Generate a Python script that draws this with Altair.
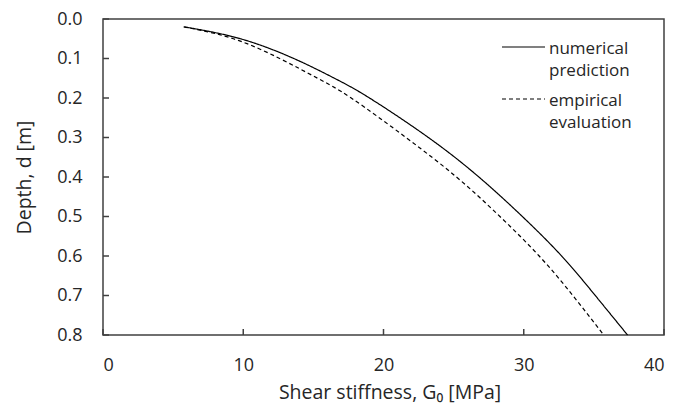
import altair as alt
import pandas as pd

# values
depth = [0.02, 0.05, 0.1, 0.15, 0.2, 0.3, 0.4, 0.5, 0.6, 0.7, 0.8]
g_numerical = [5.8, 9.8, 13.6, 16.5, 19.0, 23.2, 26.8, 29.9, 32.7, 35.1, 37.4]
g_empirical = [5.75, 9.3, 12.6, 15.3, 17.7, 21.6, 25.2, 28.3, 31.1, 33.5, 35.7]
series_names = ["numerical prediction", "empirical evaluation"]
x_ticks = [0, 10, 20, 30, 40]
y_ticks = [0.0, 0.1, 0.2, 0.3, 0.4, 0.5, 0.6, 0.7, 0.8]

rows = []
for d, g in zip(depth, g_numerical):
    rows.append({"depth": d, "G": g, "series": series_names[0]})
for d, g in zip(depth, g_empirical):
    rows.append({"depth": d, "G": g, "series": series_names[1]})
df = pd.DataFrame(rows)
xt_df = pd.DataFrame({"G": x_ticks})
yt_df = pd.DataFrame({"depth": y_ticks})

W, H = 561, 316
TICK = 6
FONT = "Open Sans"
INK = "#262626"
FRAME = "#404040"

xscale = alt.Scale(domain=[0, 40], nice=False, zero=False)
yscale = alt.Scale(domain=[0, 0.8], nice=False, reverse=True)
xaxis = alt.Axis(values=x_ticks, title="Shear stiffness, G₀ [MPa]", ticks=False,
                 domain=False, grid=False, labelPadding=21, titlePadding=9,
                 titleX=W / 2 + 6)
yaxis = alt.Axis(values=y_ticks, format=".1f", title="Depth, d [m]", ticks=False,
                 domain=False, grid=False, labelPadding=21, titlePadding=22,
                 labelOverlap=False)

lines = alt.Chart(df).mark_line(color="black", strokeWidth=1.2, interpolate="natural").encode(
    x=alt.X("G:Q", scale=xscale, axis=xaxis),
    y=alt.Y("depth:Q", scale=yscale, axis=yaxis),
    strokeDash=alt.StrokeDash("series:N",
                              scale=alt.Scale(domain=series_names, range=[[1, 0], [4, 3]]),
                              legend=alt.Legend(title=None, orient="none", legendX=398, legendY=8,
                                                symbolType="M-1,0.28L1,0.28", symbolSize=1849,
                                                symbolStrokeWidth=1.2, symbolStrokeColor="black",
                                                symbolFillColor="transparent",
                                                labelExpr="split(datum.label, ' ')",
                                                labelBaseline="top", labelOffset=3,
                                                clipHeight=28, rowPadding=0, padding=0,
                                                labelFontSize=17, labelFont=FONT, labelColor=INK)),
    order="depth:Q",
)

x_tick_marks = alt.Chart(xt_df).mark_rule(color=FRAME, strokeWidth=1.5).encode(
    x=alt.X("G:Q", scale=xscale, axis=xaxis),
    y=alt.value(H),
    y2=alt.value(H - TICK),
)

y_tick_marks = alt.Chart(yt_df).mark_rule(color=FRAME, strokeWidth=1.5).encode(
    y=alt.Y("depth:Q", scale=yscale, axis=yaxis),
    x=alt.value(0),
    x2=alt.value(TICK),
)

chart = alt.layer(lines, x_tick_marks, y_tick_marks).properties(
    width=W, height=H,
    autosize=alt.AutoSizeParams(type="none"),
    padding={"left": 103, "top": 19, "right": 12, "bottom": 73},
    background="white",
).configure(
    style={"guide-label": {"lineHeight": 22}}
).configure_view(stroke=FRAME, strokeWidth=1.5).configure_axis(
    labelFont=FONT, titleFont=FONT, labelFontSize=18, titleFontSize=19.5,
    labelColor=INK, titleColor=INK, titleFontWeight="normal",
)

chart.save("out.html", embed_options={"renderer": "svg", "actions": False})
